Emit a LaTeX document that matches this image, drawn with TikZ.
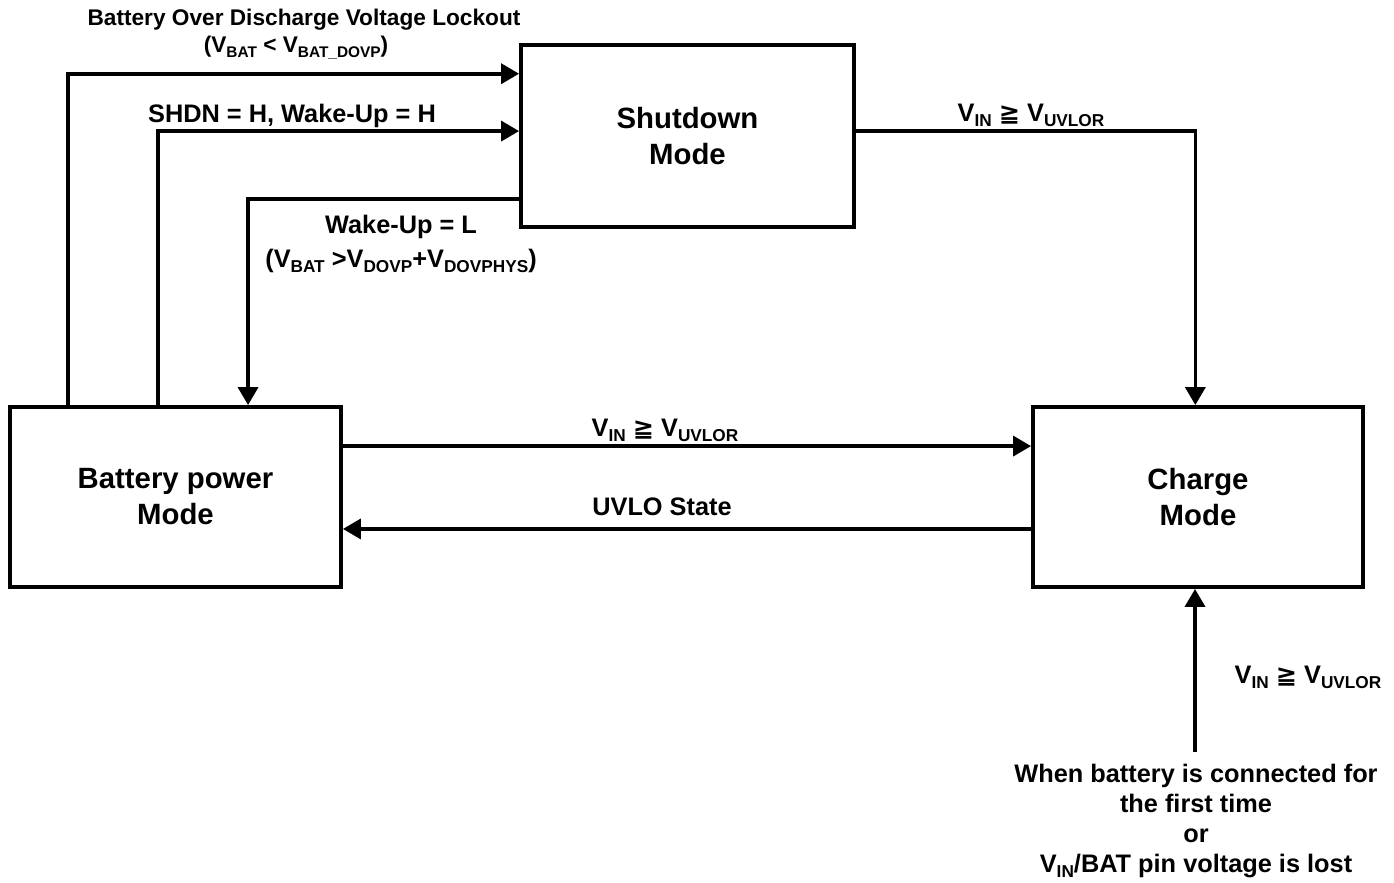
\documentclass[tikz,border=0pt]{standalone}
\usepackage{fontspec}
\usepackage{graphicx}
\setmainfont{Liberation Sans}
\newfontfamily\symfont{DejaVu Sans}
\usetikzlibrary{arrows.meta,calc}
\newcommand\sbs[1]{\raisebox{-0.38ex}{\scalebox{0.68}{#1}}}
\newcommand\geqsym{{\symfont\bfseries\char"2267}}
\begin{document}
\begin{tikzpicture}[x=0.75pt,y=-0.75pt,
  modebox/.style={draw,line width=2.9pt,rectangle,align=center,
    font=\fontsize{22}{27}\selectfont\bfseries,inner sep=0pt},
  lbl/.style={align=center,font=\fontsize{19}{22.7}\selectfont\bfseries,inner sep=0pt},
  ttl/.style={align=center,font=\fontsize{17}{20}\selectfont\bfseries,inner sep=0pt},
  arr/.style={line width=2.7pt,-{Triangle[length=13.5pt,width=15pt]}}]
\useasboundingbox (0,0) rectangle (1394,882);
% boxes
\node[modebox,minimum width=248.25pt,minimum height=135pt] (bat) at (175.5,497) {Battery power\\Mode};
\node[modebox,minimum width=249.75pt,minimum height=136.5pt] (shut) at (687.5,136) {Shutdown\\Mode};
\node[modebox,minimum width=247.5pt,minimum height=135pt] (charge) at (1198,497) {Charge\\Mode};
% connectors
\draw[arr] ([xshift=45pt]bat.north west) |- ([yshift=-23pt]shut.north west);
\draw[arr] ([xshift=112.5pt]bat.north west) |- ([yshift=-66pt]shut.north west);
\draw[arr] ([yshift=22.5pt]shut.south west) -| ([xshift=180pt]bat.north west);
\draw[arr] ([yshift=-66pt]shut.north east) -| ([xshift=-2pt]charge.north);
\draw[arr] ([yshift=-30.75pt]bat.north east) -- ([yshift=-30.75pt]charge.north west);
\draw[arr] ([yshift=45pt]charge.south west) -- ([yshift=45pt]bat.south east);
\coordinate (src) at (1195,752);
\draw[arr] (src) -- (src |- charge.south);
% labels
\node[ttl] (t1) at (304,20) {Battery Over Discharge Voltage Lockout};
\node[ttl] (t2) at (296,48) {(V\sbs{BAT} < V\sbs{BAT\_DOVP})};
\node[lbl] (l1) at (292,116) {SHDN = H, Wake-Up = H};
\node[lbl,font=\fontsize{19}{25.5}\selectfont\bfseries] (l2) at (401,244) {Wake-Up = L\\(V\sbs{BAT} >V\sbs{DOVP}+V\sbs{DOVPHYS})};
\node[lbl] (l3) at (1031,115) {V\sbs{IN} \geqsym{} V\sbs{UVLOR}};
\node[lbl] (l4) at (665,430) {V\sbs{IN} \geqsym{} V\sbs{UVLOR}};
\node[lbl] (l5) at (662,507) {UVLO State};
\node[lbl] (l6) at (1308,677) {V\sbs{IN} \geqsym{} V\sbs{UVLOR}};
\node[lbl] (l7) at (1196,821) {When battery is connected for\\the first time\\or\\V\sbs{IN}/BAT pin voltage is lost};
\end{tikzpicture}
\end{document}
